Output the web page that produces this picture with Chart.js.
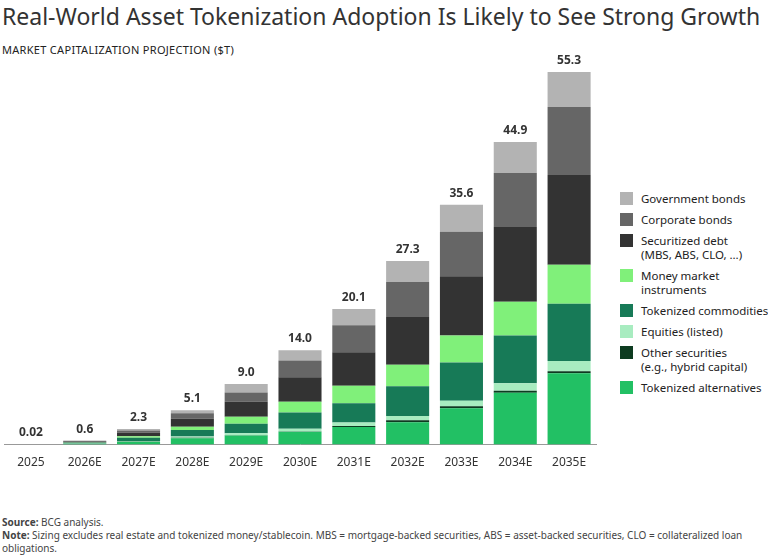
<!DOCTYPE html>
<html><head><meta charset="utf-8">
<script src="https://cdn.jsdelivr.net/npm/chart.js@4"></script>
<style>
body{margin:0;width:768px;height:557px;background:#fff;font-family:"Noto Sans",sans-serif;color:#222;position:relative;overflow:hidden}
#title{position:absolute;left:2px;top:0;font-size:23px;color:#333;white-space:nowrap}
#sub{position:absolute;left:2px;top:42px;font-size:11px;letter-spacing:.3px}
#wrap{position:absolute;left:0;top:50px;width:600px;height:423px}
#legend{position:absolute;left:620px;top:192px;font-size:11.5px;line-height:14px;white-space:nowrap}
.li{display:flex;align-items:flex-start;margin-bottom:7px}
.sw{width:13px;height:13px;margin-right:8px;flex:none}
#notes{position:absolute;left:2px;top:516px;font-size:10px;line-height:13px;color:#444;width:760px}
</style></head><body>
<div id="title">Real-World Asset Tokenization Adoption Is Likely to See Strong Growth</div>
<div id="sub">MARKET CAPITALIZATION PROJECTION ($T)</div>
<div id="wrap"><canvas id="c"></canvas></div>
<div id="legend"></div>
<div id="notes"><b>Source:</b> BCG analysis.<br><b>Note:</b> Sizing excludes real estate and tokenized money/stablecoin. MBS = mortgage-backed securities, ABS = asset-backed securities, CLO = collateralized loan obligations.</div>
<script>
const years = ["2025","2026E","2027E","2028E","2029E","2030E","2031E","2032E","2033E","2034E","2035E"];
const totals = ["0.02","0.6","2.3","5.1","9.0","14.0","20.1","27.3","35.6","44.9","55.3"];
const alternatives = [0.005,0.11,0.43,0.95,1.35,1.9,2.6,3.3,5.4,7.7,10.6];
const otherSec = [0.0005,0.01,0.02,0.05,0.05,0.05,0.17,0.3,0.3,0.3,0.3];
const equities = [0.0005,0.03,0.1,0.2,0.3,0.4,0.5,0.65,0.8,1.1,1.5];
const commodities = [0.005,0.12,0.45,0.95,1.4,2.4,2.85,4.4,5.7,7.1,8.5];
const moneyMarket = [0.002,0.06,0.25,0.5,1.05,1.6,2.6,3.2,4.0,5.0,5.8];
const securitized = [0.003,0.12,0.5,1.2,2.2,3.65,5.0,7.1,8.8,11.1,13.3];
const corporate = [0.002,0.1,0.35,0.8,1.4,2.5,4.0,5.2,6.6,8.0,10.1];
const government = [0.002,0.05,0.2,0.45,1.25,1.5,2.4,3.1,4.0,4.6,5.2];

const series = [
  {label:"Tokenized alternatives", data:alternatives, color:"#22c064"},
  {label:"Other securities<br>(e.g., hybrid capital)", data:otherSec, color:"#0d3b20"},
  {label:"Equities (listed)", data:equities, color:"#a8ecc0"},
  {label:"Tokenized commodities", data:commodities, color:"#177a57"},
  {label:"Money market<br>instruments", data:moneyMarket, color:"#80f07a"},
  {label:"Securitized debt<br>(MBS, ABS, CLO, …)", data:securitized, color:"#333333"},
  {label:"Corporate bonds", data:corporate, color:"#666666"},
  {label:"Government bonds", data:government, color:"#b3b3b3"}
];

let lg = document.getElementById("legend");
for (const s of series.slice().reverse()) {
  lg.innerHTML += `<div class="li"><div class="sw" style="background:${s.color}"></div><div>${s.label}</div></div>`;
}

const totalLabels = {
  id:"totals",
  afterDatasetsDraw(chart){
    const ctx = chart.ctx;
    const meta = chart.getDatasetMeta(series.length-1);
    ctx.save();
    ctx.font = "bold 12px 'Noto Sans'";
    ctx.fillStyle = "#333";
    ctx.textAlign = "center";
    meta.data.forEach((b,i)=>{
      ctx.fillText(totals[i], b.x, Math.min(b.y, chart.scales.y.getPixelForValue(0)) - 8);
    });
    ctx.restore();
  }
};

new Chart(document.getElementById("c"), {
  type:"bar",
  data:{
    labels:years,
    datasets:series.map(s=>({label:s.label, data:s.data, backgroundColor:s.color, barPercentage:0.8, categoryPercentage:1}))
  },
  options:{
    responsive:true, maintainAspectRatio:false, animation:false,
    layout:{padding:{top:22,left:4,right:4}},
    plugins:{legend:{display:false}, tooltip:{enabled:false}},
    scales:{
      x:{stacked:true, grid:{display:false}, border:{color:"#999"},
         ticks:{color:"#333", font:{family:"Noto Sans", size:12}}},
      y:{stacked:true, display:false, min:0, max:55.3}
    }
  },
  plugins:[totalLabels]
});
</script>
</body></html>
